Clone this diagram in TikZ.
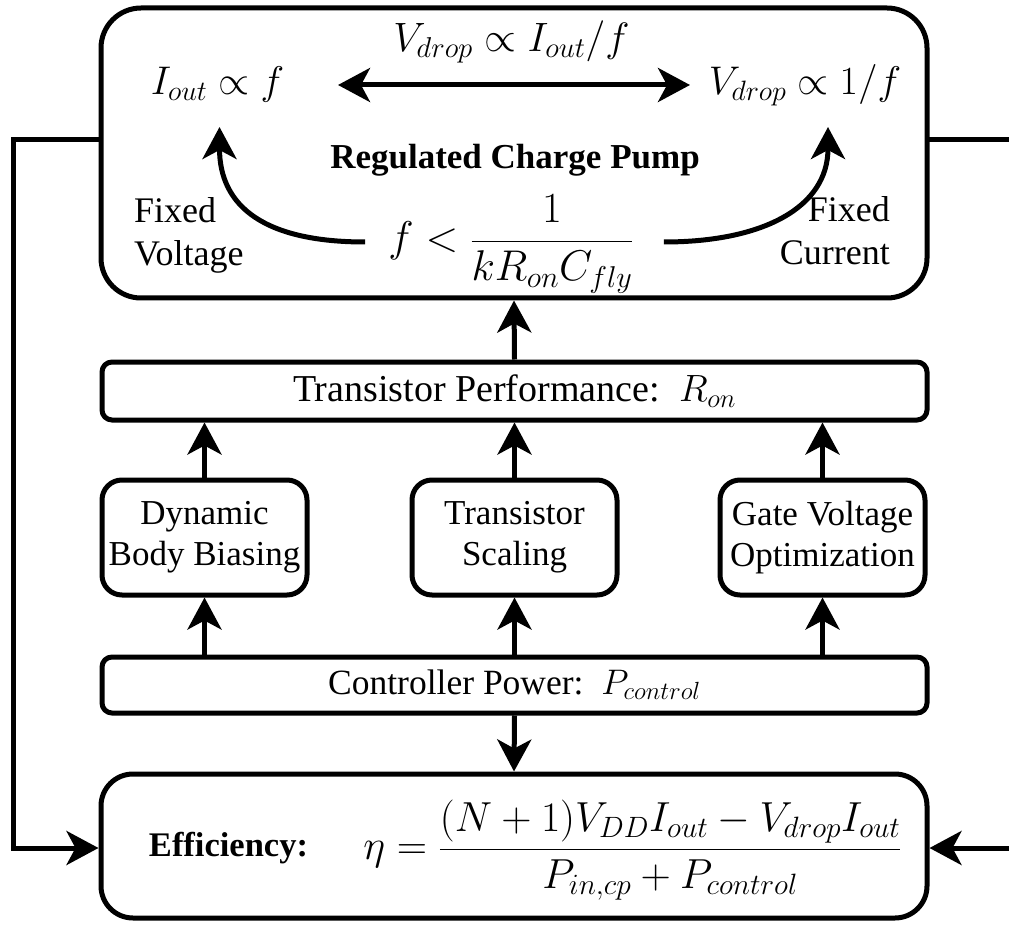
\RequirePackage{fix-cm}
\documentclass[tikz,border=0pt]{standalone}
\usepackage[no-math]{fontspec}
\setmainfont{Liberation Serif}
\usetikzlibrary{arrows.meta,calc}
\tikzset{
  box/.style={draw, line width=5pt, rounded corners=#1, inner sep=0pt, align=center},
  box/.default=10pt,
  arr/.style={line width=5pt, -{Stealth[length=32pt,width=34pt,inset=9pt]}},
  dblarr/.style={line width=5pt, {Stealth[length=32pt,width=34pt,inset=9pt]}-{Stealth[length=32pt,width=34pt,inset=9pt]}},
  plain/.style={line width=5pt},
  txt/.style={font=\fontsize{36}{43}\selectfont, inner sep=0pt, align=center},
  mth/.style={font=\fontsize{40}{48}\selectfont, inner sep=0pt},
  tech/.style={box=20pt, minimum width=205pt, minimum height=115pt, font=\fontsize{35}{41}\selectfont},
}
\begin{document}
\begin{tikzpicture}[x=1pt,y=-1pt]
\useasboundingbox (0,0) rectangle (1009,925);

% Regulated charge pump
\node[box=40pt, minimum width=826pt, minimum height=290pt] (cp) at (514,153) {};
\node[mth] (iout) at (217.5,85) {$I_{out}\propto f$};
\node[mth] (vdrop) at (805,85) {$V_{drop}\propto 1/f$};
\node[mth, font=\fontsize{41}{48}\selectfont] (vtrade) at (511.5,42) {$V_{drop}\propto I_{out}/f$};
\node[txt, font=\fontsize{35}{42}\selectfont\bfseries] (title) at (515,160) {Regulated Charge Pump};
\node[txt, align=left, anchor=west] (fv) at (134,235) {Fixed\\Voltage};
\node[txt, align=right, anchor=east] (fc) at (890,231) {Fixed\\Current};
\node[mth, font=\fontsize{43}{50}\selectfont] (cond) at (511,244) {$\displaystyle f<\frac{1}{kR_{on}C_{fly}}$};

\coordinate (dl) at (338,85);
\coordinate (dr) at (690,85);
\draw[dblarr] (dl) -- (dr);
\draw[arr] ([xshift=-23pt]cond.west |- 0,242) .. controls +(-100,0) and +(0,80) .. ($(iout.center)+(2,42)$);
\draw[arr] ([xshift=30pt]cond.east |- 0,242) .. controls +(100,0) and +(0,80) .. ($(vdrop.center)+(23,42)$);

% Transistor performance
\node[box=10pt, minimum width=825pt, minimum height=58pt, font=\fontsize{38}{45}\selectfont] (tp) at (514.5,391) {Transistor Performance:\ \ $R_{on}$};

% Techniques
\node[tech] (b1) at (204.5,537.5) {Dynamic\\Body Biasing};
\node[tech] (b2) at (514.5,537.5) {Transistor\\Scaling};
\node[tech] (b3) at (822.5,537.5) {Gate Voltage\\Optimization};

% Controller power
\node[box=10pt, minimum width=825pt, minimum height=56pt, font=\fontsize{35.5}{42}\selectfont] (ctl) at (514.5,685) {Controller Power:\ \ $P_{control}$};

% Efficiency
\node[box=32pt, minimum width=826pt, minimum height=144pt] (eff) at (514,846) {};
\node[txt, font=\fontsize{34.5}{41}\selectfont\bfseries] (efflab) at (228.5,848) {Efficiency:};
\node[mth, font=\fontsize{42}{50}\selectfont] (effeq) at (632.5,850) {$\displaystyle \eta=\frac{(N+1)V_{DD}I_{out}-V_{drop}I_{out}}{P_{in,cp}+P_{control}}$};

% Vertical connectors
\draw[arr] (tp.north) -- (cp.south);
\draw[arr] (b1.north) -- (b1.north |- tp.south);
\draw[arr] (b2.north) -- (b2.north |- tp.south);
\draw[arr] (b3.north) -- (b3.north |- tp.south);
\draw[arr] (b1.south |- ctl.north) -- (b1.south);
\draw[arr] (b2.south |- ctl.north) -- (b2.south);
\draw[arr] (b3.south |- ctl.north) -- (b3.south);
\draw[arr] (ctl.south) -- (eff.north);

% Feedback paths
\coordinate (lin) at (101,140);
\coordinate (lcorner) at (13,140);
\coordinate (rin) at (927,140);
\coordinate (rout) at (1012,140);
\coordinate (rret) at (1012,848);
\draw[arr] (lin) -- (lcorner) |- ([yshift=-2pt]eff.west);
\draw[plain] (rin) -- (rout);
\draw[arr] (rret) -- ([yshift=-2pt]eff.east);
\end{tikzpicture}
\end{document}
